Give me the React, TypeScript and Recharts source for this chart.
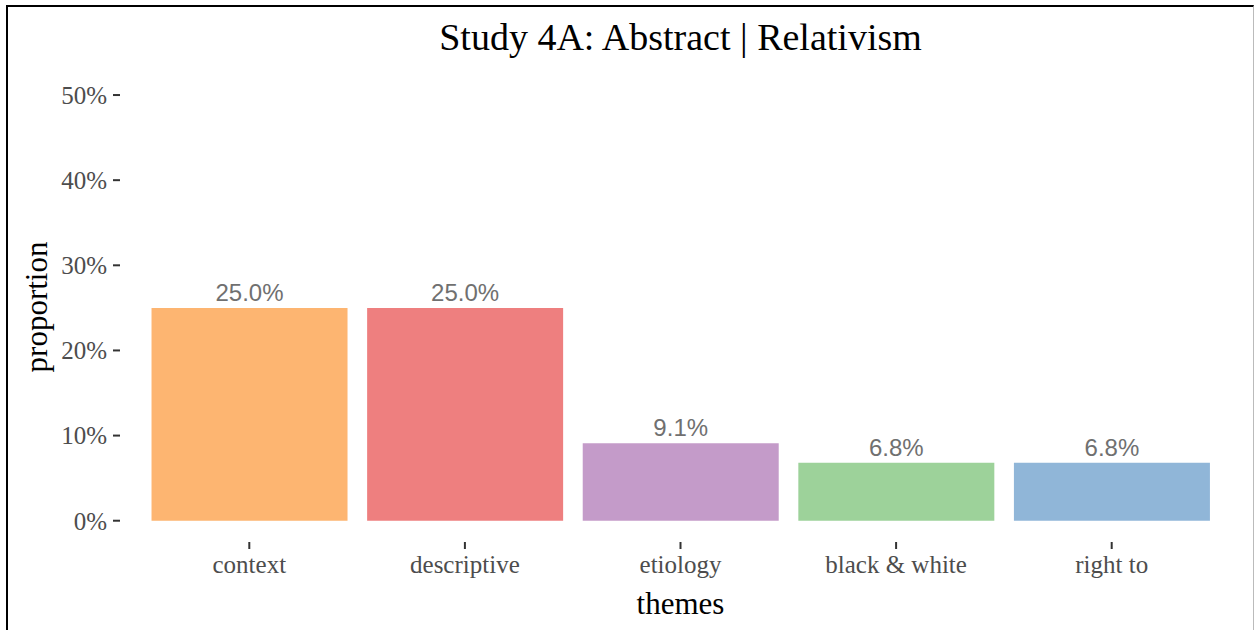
import React from 'react';
import { BarChart, Bar, XAxis, YAxis, LabelList, Cell } from 'recharts';

const themes = ['context', 'descriptive', 'etiology', 'black & white', 'right to'];
const proportions = [0.25, 0.25, 0.091, 0.068, 0.068];
const barColors = ['#FDB571', '#EE7F7F', '#C49BC9', '#9DD29A', '#90B6D8'];
const yTicks = [0, 0.1, 0.2, 0.3, 0.4, 0.5];

const data = themes.map((t, i) => ({ theme: t, proportion: proportions[i] }));

const serif = '"Liberation Serif", "Times New Roman", serif';
const sans = '"Liberation Sans", Arial, sans-serif';

const pct = (v: number) => `${Math.round(v * 100)}%`;

export default function App() {
  return (
    <div style={{ position: 'absolute', left: 0, top: 0, width: 1257, height: 630, background: '#fff', overflow: 'hidden' }}>
      <div
        style={{
          position: 'absolute',
          left: 6,
          top: 5,
          width: 1248,
          height: 640,
          borderLeft: '2.5px solid #000',
          borderTop: '2.5px solid #000',
          borderRight: '1px solid #bbb',
          boxSizing: 'border-box',
        }}
      />
      <div
        style={{
          position: 'absolute',
          left: 120,
          width: 1121,
          top: 18,
          textAlign: 'center',
          fontFamily: serif,
          fontSize: 38,
          lineHeight: '38px',
          color: '#000',
        }}
      >
        Study 4A: Abstract | Relativism
      </div>
      <div
        style={{
          position: 'absolute',
          left: 37 - 150,
          top: 307 - 16,
          width: 300,
          height: 32,
          lineHeight: '32px',
          textAlign: 'center',
          transform: 'rotate(-90deg)',
          fontFamily: serif,
          fontSize: 31,
          color: '#000',
        }}
      >
        proportion
      </div>
      <div
        style={{
          position: 'absolute',
          left: 120,
          width: 1121,
          top: 588,
          textAlign: 'center',
          fontFamily: serif,
          fontSize: 31,
          lineHeight: '31px',
          color: '#000',
        }}
      >
        themes
      </div>
      <div style={{ position: 'absolute', left: 0, top: 0 }}>
        <BarChart
          width={1257}
          height={630}
          data={data}
          margin={{ top: 73.75, right: 16, left: 0, bottom: 58 }}
          barCategoryGap="4.65%"
        >
          <XAxis
            dataKey="theme"
            height={30}
            axisLine={false}
            tickSize={7}
            tickMargin={6}
            tickLine={{ stroke: '#333', strokeWidth: 2 }}
            padding={{ left: 21.5, right: 21.5 }}
            tick={{ fill: '#4d4d4d', fontSize: 25, fontFamily: serif }}
            interval={0}
          />
          <YAxis
            type="number"
            domain={[-0.025, 0.525]}
            ticks={yTicks}
            width={120}
            axisLine={false}
            tickSize={7}
            tickMargin={6}
            tickLine={{ stroke: '#333', strokeWidth: 2 }}
            tickFormatter={pct}
            tick={{ fill: '#4d4d4d', fontSize: 25, fontFamily: serif }}
            allowDataOverflow
          />
          <Bar dataKey="proportion" isAnimationActive={false}>
            {data.map((d, i) => (
              <Cell key={d.theme} fill={barColors[i]} />
            ))}
            <LabelList
              dataKey="proportion"
              position="top"
              offset={7}
              formatter={(v: any) => `${(Number(v) * 100).toFixed(1)}%`}
              style={{ fill: '#707070', fontSize: 24, fontFamily: sans }}
            />
          </Bar>
        </BarChart>
      </div>
    </div>
  );
}
